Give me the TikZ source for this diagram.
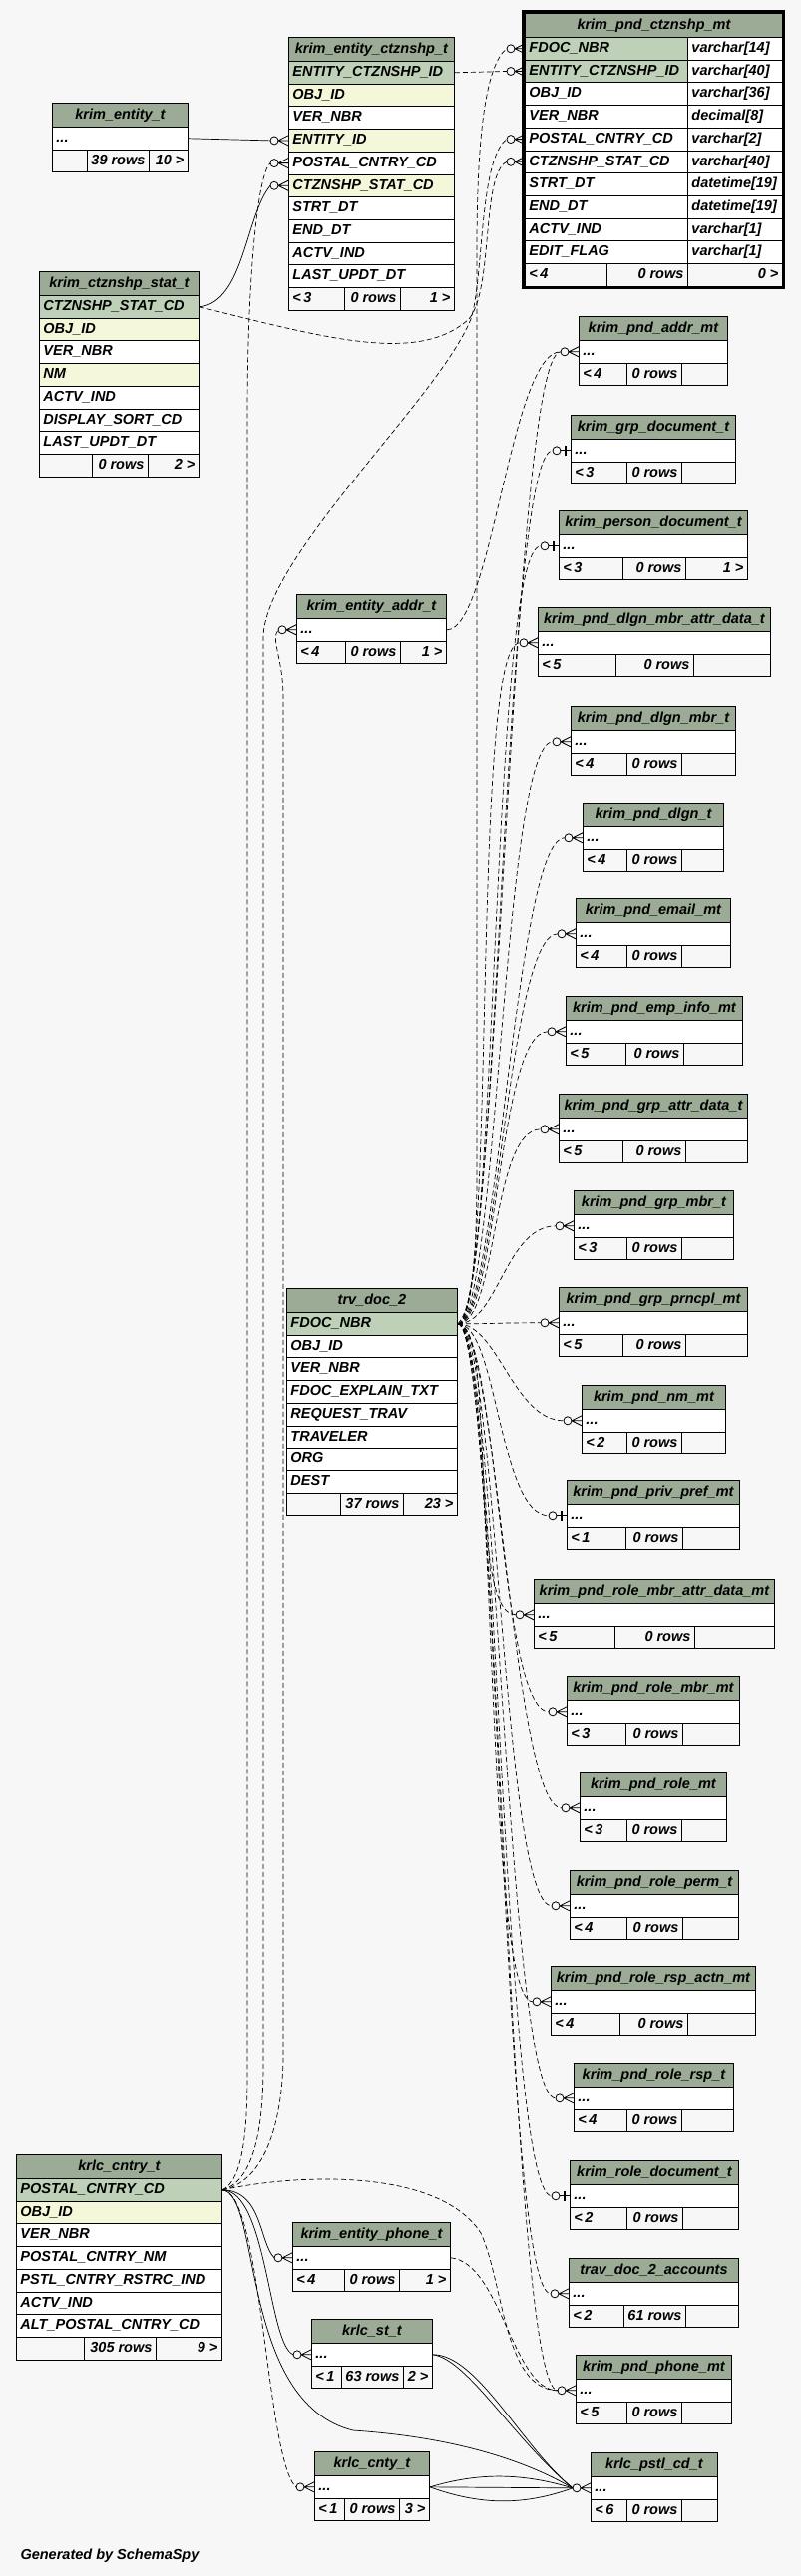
\documentclass[tikz,border=0pt]{standalone}
\usepackage{fontspec}
\setmainfont{Liberation Sans}
\definecolor{hdrc}{HTML}{9BAB96}
\definecolor{pkc}{HTML}{BED1B8}
\definecolor{idxc}{HTML}{F4F7DA}
\definecolor{bgc}{HTML}{F7F7F7}
\begin{document}
\begin{tikzpicture}[x=1pt,y=-1pt,
  every node/.style={font=\fontsize{14.5}{17}\selectfont\bfseries\itshape},
  head/.style={draw, fill=hdrc, line width=0.9pt, anchor=north west, inner xsep=4pt, inner ysep=0pt, minimum height=24pt, text height=10.5pt, text depth=3pt},
  cell/.style={draw, fill=white, line width=0.9pt, anchor=north west, inner xsep=4pt, inner ysep=0pt, minimum height=22.7pt, text height=10.5pt, text depth=3pt},
  foot/.style={cell, fill=bgc},
  fk/.style={draw, line width=0.7pt},
  impl/.style={draw, line width=0.7pt, dash pattern=on 5pt off 3pt},
  crow/.pic={
    \draw[line width=0.8pt] (-18,0) -- (0,0) (-10,0) -- (0,-5) (-10,0) -- (0,5);
    \draw[line width=0.8pt, fill=bgc] (-14,0) circle (4pt);
  },
  onebar/.pic={
    \draw[line width=0.8pt] (-18,0) -- (0,0);
    \draw[line width=2pt] (-5,-5) -- (-5,5);
    \draw[line width=0.8pt, fill=bgc] (-14,0) circle (4pt);
  }]
  % the canvas
  \useasboundingbox (0,0) rectangle (803,2584);
  \fill[bgc] (0,0) rectangle (803,2584);

  %% small tables: header, one "..." row, footer
  \foreach \n/\xl/\xr/\yt/\da/\db/\ti/\fa/\fb/\fc in {
    ent/52/188/103/87/149/krim\_entity\_t/{}/39 rows/10 >,
    ead/297/447/596/346/401/krim\_entity\_addr\_t/<\,4/0 rows/1 >,
    pa/580/729/317/628/683/krim\_pnd\_addr\_mt/<\,4/0 rows/{},
    gd/572/737/416/628/683/krim\_grp\_document\_t/<\,3/0 rows/{},
    pd/560/749/512/624/687/krim\_person\_document\_t/<\,3/0 rows/1 >,
    dmad/539/772/609/617/695/krim\_pnd\_dlgn\_mbr\_attr\_data\_t/<\,5/0 rows/{},
    dm/572/737/708/628/683/krim\_pnd\_dlgn\_mbr\_t/<\,4/0 rows/{},
    dl/584/725/805/628/683/krim\_pnd\_dlgn\_t/<\,4/0 rows/{},
    em/577/732/901/628/683/krim\_pnd\_email\_mt/<\,4/0 rows/{},
    emp/567/744/999/627/685/krim\_pnd\_emp\_info\_mt/<\,5/0 rows/{},
    gad/560/749/1097/624/687/krim\_pnd\_grp\_attr\_data\_t/<\,5/0 rows/{},
    gm/575/735/1194/628/683/krim\_pnd\_grp\_mbr\_t/<\,3/0 rows/{},
    gp/560/749/1291/624/687/krim\_pnd\_grp\_prncpl\_mt/<\,5/0 rows/{},
    nm/583/727/1389/628/683/krim\_pnd\_nm\_mt/<\,2/0 rows/{},
    pp/568/741/1485/627/684/krim\_pnd\_priv\_pref\_mt/<\,1/0 rows/{},
    rmad/535/776/1584/616/696/krim\_pnd\_role\_mbr\_attr\_data\_mt/<\,5/0 rows/{},
    rm/568/741/1681/627/684/krim\_pnd\_role\_mbr\_mt/<\,3/0 rows/{},
    ro/581/728/1778/628/683/krim\_pnd\_role\_mt/<\,3/0 rows/{},
    rp/571/740/1876/628/684/krim\_pnd\_role\_perm\_t/<\,4/0 rows/{},
    rra/552/757/1972/621/689/krim\_pnd\_role\_rsp\_actn\_mt/<\,4/0 rows/{},
    rr/575/735/2069/628/683/krim\_pnd\_role\_rsp\_t/<\,4/0 rows/{},
    rd/571/740/2167/628/684/krim\_role\_document\_t/<\,2/0 rows/{},
    acc/570/740/2265/625/687/trav\_doc\_2\_accounts/<\,2/61 rows/{},
    ph/577/733/2362/628/683/krim\_pnd\_phone\_mt/<\,5/0 rows/{},
    pst/592/719/2460/628/683/krlc\_pstl\_cd\_t/<\,6/0 rows/{},
    eph/293/451/2229/345/400/krim\_entity\_phone\_t/<\,4/0 rows/1 >,
    st/312/433/2326/342/404/krlc\_st\_t/<\,1/63 rows/2 >,
    cnty/315/430/2459/345/400/krlc\_cnty\_t/<\,1/0 rows/3 >}
  {
    \pgfmathsetmacro\ww{\xr-\xl}
    \pgfmathsetmacro\wt{\xr-\xl-8}
    \pgfmathsetmacro\wa{\da-\xl-8}
    \pgfmathsetmacro\wb{\db-\da-8}
    \pgfmathsetmacro\wc{\xr-\db-8}
    \node[head, minimum width=\ww pt] (\n-h) at (\xl,\yt) {\ti};
    \node[cell] (\n-r) at (\xl,\yt+24) {\makebox[\wt pt][l]{...}};
    \node[foot] (\n-fa) at (\xl,\yt+46.7) {\makebox[\wa pt][l]{\fa}};
    \node[foot] (\n-fb) at (\da,\yt+46.7) {\makebox[\wb pt][r]{\fb}};
    \node[foot] (\n-fc) at (\db,\yt+46.7) {\makebox[\wc pt][r]{\fc}};
  }

  %% krim_entity_ctznshp_t
  \node[head, minimum width=166pt] (kec-h) at (289,37) {krim\_entity\_ctznshp\_t};
  \foreach \fld/\col [count=\i] in {ENTITY\_CTZNSHP\_ID/pkc, OBJ\_ID/idxc, VER\_NBR/white, ENTITY\_ID/idxc, POSTAL\_CNTRY\_CD/white, CTZNSHP\_STAT\_CD/idxc, STRT\_DT/white, END\_DT/white, ACTV\_IND/white, LAST\_UPDT\_DT/white}
    \node[cell, fill=\col] (kec-\i) at (289,{61+22.7*(\i-1)}) {\makebox[158pt][l]{\fld}};
  \node[foot] (kec-fa) at (289,288) {\makebox[48pt][l]{<\,3}};
  \node[foot] (kec-fb) at (345,288) {\makebox[48pt][r]{0 rows}};
  \node[foot] (kec-fc) at (401,288) {\makebox[46pt][r]{1 >}};

  %% krim_ctznshp_stat_t
  \node[head, minimum width=160pt] (cst-h) at (39,272) {krim\_ctznshp\_stat\_t};
  \foreach \fld/\col [count=\i] in {CTZNSHP\_STAT\_CD/pkc, OBJ\_ID/idxc, VER\_NBR/white, NM/idxc, ACTV\_IND/white, DISPLAY\_SORT\_CD/white, LAST\_UPDT\_DT/white}
    \node[cell, fill=\col] (cst-\i) at (39,{296+22.7*(\i-1)}) {\makebox[152pt][l]{\fld}};
  \node[foot] (cst-fa) at (39,454.9) {\makebox[45pt][l]{}};
  \node[foot] (cst-fb) at (92,454.9) {\makebox[48pt][r]{0 rows}};
  \node[foot] (cst-fc) at (148,454.9) {\makebox[43pt][r]{2 >}};

  %% krim_pnd_ctznshp_mt (the selected table, with types)
  \node[head, minimum width=258pt] (pct-h) at (526,13) {krim\_pnd\_ctznshp\_mt};
  \foreach \fld/\col/\typ [count=\i] in {FDOC\_NBR/pkc/varchar[14], ENTITY\_CTZNSHP\_ID/pkc/varchar[40], OBJ\_ID/white/varchar[36], VER\_NBR/white/decimal[8], POSTAL\_CNTRY\_CD/white/varchar[2], CTZNSHP\_STAT\_CD/white/varchar[40], STRT\_DT/white/datetime[19], END\_DT/white/datetime[19], ACTV\_IND/white/varchar[1], EDIT\_FLAG/white/varchar[1]}
  {
    \node[cell, fill=\col] (pct-\i) at (526,{37+22.7*(\i-1)}) {\makebox[155pt][l]{\fld}};
    \node[cell] (pct-t\i) at (689,{37+22.7*(\i-1)}) {\makebox[87pt][l]{\typ}};
  }
  \node[foot] (pct-fa) at (526,264) {\makebox[74pt][l]{<\,4}};
  \node[foot] (pct-fb) at (608,264) {\makebox[73pt][r]{0 rows}};
  \node[foot] (pct-fc) at (689,264) {\makebox[87pt][r]{0 >}};
  \draw[line width=3pt] (524.5,11.5) rectangle (785.5,288.2);

  %% trv_doc_2
  \node[head, minimum width=171pt] (trv-h) at (287,1292) {trv\_doc\_2};
  \foreach \fld/\col [count=\i] in {FDOC\_NBR/pkc, OBJ\_ID/white, VER\_NBR/white, FDOC\_EXPLAIN\_TXT/white, REQUEST\_TRAV/white, TRAVELER/white, ORG/white, DEST/white}
    \node[cell, fill=\col] (trv-\i) at (287,{1316+22.7*(\i-1)}) {\makebox[163pt][l]{\fld}};
  \node[foot] (trv-fa) at (287,1497.6) {\makebox[46pt][l]{}};
  \node[foot] (trv-fb) at (341,1497.6) {\makebox[55pt][r]{37 rows}};
  \node[foot] (trv-fc) at (404,1497.6) {\makebox[46pt][r]{23 >}};

  %% krlc_cntry_t
  \node[head, minimum width=206pt] (cty-h) at (16,2161) {krlc\_cntry\_t};
  \foreach \fld/\col [count=\i] in {POSTAL\_CNTRY\_CD/pkc, OBJ\_ID/idxc, VER\_NBR/white, POSTAL\_CNTRY\_NM/white, PSTL\_CNTRY\_RSTRC\_IND/white, ACTV\_IND/white, ALT\_POSTAL\_CNTRY\_CD/white}
    \node[cell, fill=\col] (cty-\i) at (16,{2185+22.7*(\i-1)}) {\makebox[198pt][l]{\fld}};
  \node[foot] (cty-fa) at (16,2343.9) {\makebox[60pt][l]{}};
  \node[foot] (cty-fb) at (84,2343.9) {\makebox[64pt][r]{305 rows}};
  \node[foot] (cty-fc) at (156,2343.9) {\makebox[58pt][r]{9 >}};

  \node[anchor=west] (gen) at (17,2564) {Generated by SchemaSpy};

  %% relationships from trv_doc_2
  \foreach \n in {pa,dmad,dm,dl,em,emp,gad,gm,gp,nm,rmad,rm,ro,rp,rra,rr,acc,ph}
  {
    \draw[impl] (trv-1.east) .. controls +(40,0) and +(-50,0) .. ([xshift=-18pt]\n-r.west);
    \pic at (\n-r.west) {crow};
  }
  \foreach \n in {gd,pd,pp,rd}
  {
    \draw[impl] (trv-1.east) .. controls +(40,0) and +(-50,0) .. ([xshift=-18pt]\n-r.west);
    \pic at (\n-r.west) {onebar};
  }
  \draw[impl] (trv-1.east) .. controls +(20,-20) and +(0,60) .. (478,1150) -- (478,250) .. controls +(0,-120) and +(-20,15) .. ([xshift=-18pt]pct-1.west);
  \pic at (pct-1.west) {crow};

  %% top left relationships
  \draw[fk] (ent-r.east) -- ([xshift=-18pt]kec-4.west);
  \pic at (kec-4.west) {crow};
  \draw[fk] (cst-1.east) .. controls +(45,-5) and +(-25,30) .. ([xshift=-18pt]kec-6.west);
  \pic at (kec-6.west) {crow};
  \draw[impl] (kec-1.east) -- ([xshift=-18pt]pct-2.west);
  \pic at (pct-2.west) {crow};
  \draw[impl] (cst-1.east) .. controls (330,340) and (420,365) .. (470,320) .. controls (495,290) and (482,175) .. ([xshift=-18pt]pct-6.west);
  \pic at (pct-6.west) {crow};
  \draw[impl] (ead-r.east) .. controls +(45,0) and +(-50,0) .. ([xshift=-18pt]pa-r.west);

  %% relationships from krlc_cntry_t
  \draw[impl] (cty-1.east) .. controls +(22,-10) and +(0,50) .. (248,2080) -- (248,420) .. controls +(0,-150) and +(-12,10) .. ([xshift=-18pt]kec-5.west);
  \pic at (kec-5.west) {crow};
  \draw[impl] (cty-1.east) .. controls +(50,-10) and +(0,50) .. (284,2060) -- (284,700) .. controls +(0,-40) and +(-8,10) .. ([xshift=-18pt]ead-r.west);
  \pic at (ead-r.west) {crow};
  \draw[impl] (cty-1.east) .. controls +(36,-10) and +(0,50) .. (264,2070) -- (264,640) .. controls (264,560) and (440,400) .. (472,320) .. controls (485,280) and (480,160) .. ([xshift=-18pt]pct-5.west);
  \pic at (pct-5.west) {crow};
  \draw[impl] (cty-1.east) .. controls (300,2180) and (440,2175) .. (482,2240) .. controls (505,2290) and (505,2397) .. ([xshift=-18pt]ph-r.west);
  \draw[impl] (eph-r.east) .. controls +(50,5) and +(-45,0) .. ([xshift=-18pt]ph-r.west);
  \draw[fk] (cty-1.east) .. controls +(40,0) and +(-15,-15) .. ([xshift=-18pt]eph-r.west);
  \pic at (eph-r.west) {crow};
  \draw[fk] (cty-1.east) .. controls +(45,0) and +(-25,-10) .. ([xshift=-18pt]st-r.west);
  \pic at (st-r.west) {crow};
  \draw[impl] (cty-1.east) .. controls +(40,0) and +(-30,-25) .. ([xshift=-18pt]cnty-r.west);
  \pic at (cnty-r.west) {crow};
  \draw[fk] (cty-1.east) .. controls (262,2200) and (240,2410) .. (354,2438) .. controls (460,2445) and (530,2470) .. ([xshift=-18pt]pst-r.west);

  %% postal codes
  \draw[fk] (st-r.east) .. controls +(45,0) and +(-50,-40) .. ([xshift=-18pt]pst-r.west);
  \draw[fk] (st-r.east) .. controls +(35,5) and +(-60,-50) .. ([xshift=-18pt]pst-r.west);
  \draw[fk] (cnty-r.east) -- ([xshift=-18pt]pst-r.west);
  \draw[fk] (cnty-r.east) .. controls +(50,-15) and +(-50,-15) .. ([xshift=-18pt]pst-r.west);
  \draw[fk] (cnty-r.east) .. controls +(50,18) and +(-50,18) .. ([xshift=-18pt]pst-r.west);
  \pic at (pst-r.west) {crow};
\end{tikzpicture}
\end{document}
